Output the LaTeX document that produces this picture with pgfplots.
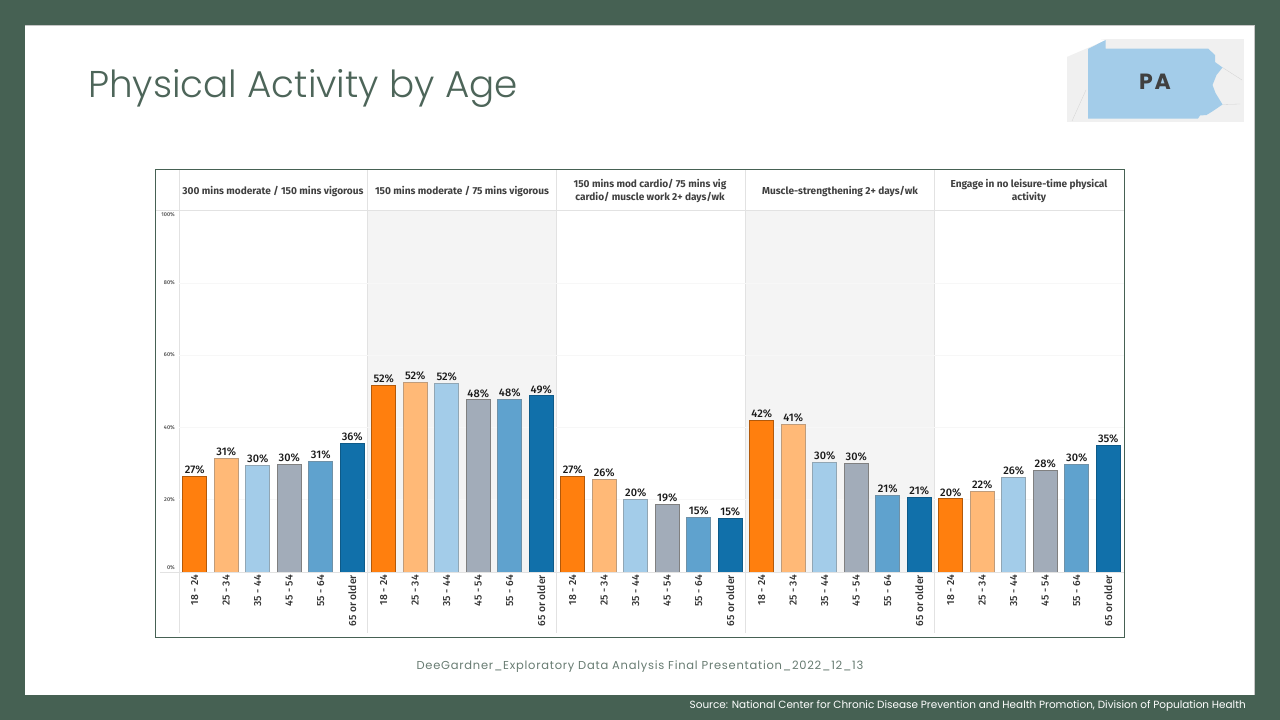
\documentclass[border=0pt]{standalone}
\usepackage{fontspec}
\usepackage{pgfplots}
\pgfplotsset{compat=1.18}
\setmainfont{Fira Sans}
\newfontfamily\slidefont{Poppins}
\newfontfamily\titlefont{Poppins Light}
\newfontfamily\mediumfont{Fira Sans Medium}
\definecolor{slidegreen}{HTML}{466153}
\definecolor{titlegreen}{HTML}{4D6559}
\definecolor{cOrange}{HTML}{FF7F0E}
\definecolor{cPeach}{HTML}{FFB977}
\definecolor{cLight}{HTML}{A3CCE9}
\definecolor{cGrey}{HTML}{A2ACB9}
\definecolor{cMid}{HTML}{5FA2CE}
\definecolor{cDark}{HTML}{1170AA}
\definecolor{panel}{HTML}{F4F4F4}
\definecolor{rulegrey}{HTML}{E2E2E2}
\begin{document}
\begin{tikzpicture}
\begin{scope}[x=1pt,y=-1pt]
\fill[slidegreen] (0,0) rectangle (1280,720);
\fill[white] (25,25) rectangle (1255,695);
\draw[gray!45,line width=0.7pt] (25,25.4) -- (1254.6,25.4) -- (1254.6,695);
\node[anchor=west,inner sep=0,font=\titlefont\fontsize{37.3}{40}\selectfont,text=titlegreen] at (88,88.5) {Physical Activity by Age};
% map
\fill[gray!12] (1066.5,38.5) rectangle (1243.5,121.5);
\fill[white] (1066.5,38) -- (1092,38) -- (1106,40) -- (1066.5,57) -- cycle;
\draw[gray!35,line width=0.3pt] (1222.5,67.5) -- (1242,80);
\draw[gray!35,line width=0.3pt] (1222.5,104.5) -- (1240,104);
\draw[gray!35,line width=0.3pt] (1072,121) -- (1086,90);
\fill[cLight] (1088,49) -- (1105.5,40) -- (1105.5,48.5) -- (1208,48.5) -- (1215,55) -- (1215,62) -- (1222.5,67.5) -- (1216.5,75) -- (1212.5,85) -- (1215.5,93) -- (1222.5,104.5) -- (1213,111) -- (1206.5,115) -- (1200,115.5) -- (1198,118.5) -- (1088,118.5) -- cycle;
\node[font=\slidefont\bfseries\fontsize{22}{24}\selectfont\addfontfeature{LetterSpace=8},text=black!75] at (1155,82) {PA};
% chart frame
\fill[panel] (368,211) rectangle (556.5,572);
\fill[panel] (745.5,211) rectangle (934.5,572);
\foreach \x in {179,367.5,556.5,745.5,934.5}
  \draw[rulegrey,line width=0.8pt] (\x,169) -- (\x,633);
\draw[rulegrey,line width=0.8pt] (155,210.5) -- (1124,210.5);
\draw[slidegreen,line width=1pt] (155.5,169.5) rectangle (1124.5,637);
\begin{scope}[font=\bfseries\fontsize{10.1}{13}\selectfont,text=black!75,align=center]
\node at (273,191) {300 mins moderate / 150 mins vigorous};
\node at (462,191) {150 mins moderate / 75 mins vigorous};
\node at (650,191) {150 mins mod cardio/ 75 mins vig\\cardio/ muscle work 2+ days/wk};
\node at (840,191) {Muscle-strengthening 2+ days/wk};
\node at (1029,191) {Engage in no leisure-time physical\\activity};
\end{scope}
\node[font=\slidefont\fontsize{11.5}{13}\selectfont\addfontfeature{LetterSpace=6.5},text=titlegreen!85] at (640,667) {DeeGardner\_Exploratory Data Analysis Final Presentation\_2022\_12\_13};
\node[anchor=east,inner sep=0,font=\slidefont\fontsize{10.45}{12}\selectfont,text=white] at (1246,706) {Source: National Center for Chronic Disease Prevention and Health Promotion, Division of Population Health};
\end{scope}
\begin{axis}[
  at={(179pt,-572pt)},anchor=south west,
  scale only axis,width=945pt,height=361.5pt,
  xmin=-0.5,xmax=29.5,ymin=0,ymax=100,
  ybar,bar width=24pt,bar shift=0pt,
  axis line style={draw=none},tick style={draw=none},
  major tick length=0pt,
  ymajorgrids,grid style={draw=panel!70!white,line width=0.6pt},
  ytick={20,40,60,80},yticklabels={20\%,40\%,60\%,80\%},
  extra y ticks={1.2,98.8},extra y tick labels={0\%,100\%},
  extra y tick style={grid=none},
  yticklabel style={font=\mediumfont\fontsize{5.5}{6}\selectfont,text=black!70,inner sep=0pt,xshift=-4pt},
  xtick={0,...,29},
  xticklabels={18 - 24,25 - 34,35 - 44,45 - 54,55 - 64,65 or older,18 - 24,25 - 34,35 - 44,45 - 54,55 - 64,65 or older,18 - 24,25 - 34,35 - 44,45 - 54,55 - 64,65 or older,18 - 24,25 - 34,35 - 44,45 - 54,55 - 64,65 or older,18 - 24,25 - 34,35 - 44,45 - 54,55 - 64,65 or older},
  xticklabel style={rotate=90,anchor=east,font=\mediumfont\fontsize{10.3}{11}\selectfont,text=black!80,inner sep=0pt,xshift=-3pt},
  point meta=explicit symbolic,
  nodes near coords={\pgfplotspointmeta\%},
  nodes near coords style={font=\mediumfont\fontsize{11}{12}\selectfont,text=black!90,anchor=south,inner sep=0pt,yshift=2pt},
  every axis plot/.append style={line width=1pt,draw opacity=1},
  clip=false,
]
\addplot[fill=cOrange,draw=cOrange!70!black] coordinates {(0,26.5)[27] (6,51.5)[52] (12,26.5)[27] (18,42)[42] (24,20.2)[20]};
\addplot[fill=cPeach,draw=cPeach!50!gray] coordinates {(1,31.3)[31] (7,52.4)[52] (13,25.7)[26] (19,40.8)[41] (25,22.3)[22]};
\addplot[fill=cLight,draw=cLight!50!gray] coordinates {(2,29.5)[30] (8,52.2)[52] (14,20)[20] (20,30.3)[30] (26,26.2)[26]};
\addplot[fill=cGrey,draw=gray] coordinates {(3,29.7)[30] (9,47.6)[48] (15,18.8)[19] (21,30)[30] (27,28)[28]};
\addplot[fill=cMid,draw=cMid!50!gray] coordinates {(4,30.5)[31] (10,47.7)[48] (16,15)[15] (22,21.3)[21] (28,29.7)[30]};
\addplot[fill=cDark,draw=cDark!80!black] coordinates {(5,35.6)[36] (11,48.7)[49] (17,14.7)[15] (23,20.7)[21] (29,34.9)[35]};
\end{axis}
\begin{scope}[x=1pt,y=-1pt]
\draw[rulegrey,line width=0.8pt] (160,572) -- (1124,572);
\end{scope}
\end{tikzpicture}
\end{document}
